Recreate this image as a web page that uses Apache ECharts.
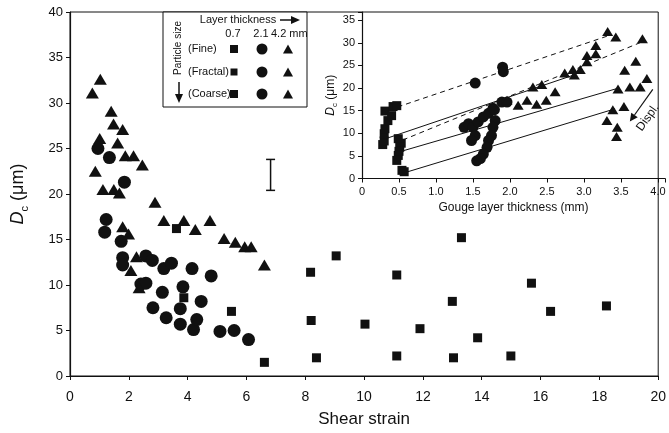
<!DOCTYPE html>
<html>
<head>
<meta charset="utf-8">
<script src="https://cdn.jsdelivr.net/npm/echarts@6/dist/echarts.min.js"></script>
<style>
html, body { margin: 0; padding: 0; background: #fff; }
#main { width: 669px; height: 433px; }
</style>
</head>
<body>
<div id="main"></div>
<script>
var myChart = echarts.init(document.getElementById('main'));

// main plot: shear strain vs Dc, one series per layer thickness
var mainSquares = [
    [3.62, 16.2], [3.87, 8.6], [5.49, 7.1], [6.61, 1.5], [8.18, 11.4], [8.2, 6.1],
    [8.38, 2.0], [9.05, 13.2], [10.03, 5.7], [11.11, 11.1], [11.11, 2.2], [11.9, 5.2],
    [13.0, 8.2], [13.04, 2.0], [13.31, 15.2], [13.86, 4.2], [14.99, 2.2], [15.69, 10.2],
    [16.34, 7.1], [18.24, 7.7]
];
var mainCircles = [
    [0.95, 25.0], [1.34, 24.0], [1.85, 21.3], [1.23, 17.2], [1.18, 15.8], [1.74, 14.8],
    [1.79, 13.0], [1.79, 12.2], [2.41, 10.1], [2.58, 10.2], [2.58, 13.2], [2.80, 12.7],
    [2.82, 7.5], [3.14, 9.2], [3.19, 11.8], [3.27, 6.4], [3.45, 12.4], [3.75, 7.4],
    [3.75, 5.7], [3.84, 9.8], [4.15, 11.8], [4.20, 5.1], [4.31, 6.2], [4.46, 8.2],
    [4.80, 11.0], [5.10, 4.9], [5.58, 5.0], [6.07, 4.0]
];
var mainTriangles = [
    [0.76, 31.1], [1.03, 32.6], [1.40, 29.1], [1.48, 27.7], [1.79, 27.1], [1.01, 26.1],
    [1.62, 25.6], [1.88, 24.2], [2.16, 24.2], [2.46, 23.2], [0.86, 22.5], [1.12, 20.5],
    [1.49, 20.5], [1.68, 20.1], [2.89, 19.1], [3.19, 17.1], [3.87, 17.1], [4.76, 17.1],
    [4.26, 16.1], [1.79, 16.4], [1.99, 15.6], [5.24, 15.1], [5.62, 14.7], [5.94, 14.2],
    [6.16, 14.2], [6.61, 12.2], [2.26, 13.1], [2.07, 11.6], [2.35, 9.7]
];
// [x, low, high]
var errorBar = [[6.82, 20.4, 23.8]];

// inset: gouge layer thickness vs Dc
var insetSquares = [
    [0.28, 7.5], [0.30, 8.3], [0.30, 9.9], [0.31, 11.0], [0.35, 12.8], [0.31, 14.9],
    [0.40, 13.9], [0.42, 15.9], [0.47, 16.1], [0.49, 8.8], [0.53, 7.8], [0.51, 6.9],
    [0.50, 6.0], [0.49, 5.1], [0.47, 4.0], [0.54, 1.8], [0.57, 1.5]
];
var insetCircles = [
    [1.53, 21.1], [1.90, 24.6], [1.91, 23.6], [1.38, 11.3], [1.44, 12.1], [1.50, 11.3],
    [1.57, 12.5], [1.64, 13.6], [1.71, 14.4], [1.77, 15.5], [1.79, 15.2], [1.89, 16.9],
    [1.96, 16.9], [1.53, 9.5], [1.48, 8.4], [1.80, 12.8], [1.77, 11.3], [1.75, 9.5],
    [1.71, 8.4], [1.69, 6.9], [1.64, 5.4], [1.60, 4.4], [1.55, 3.9]
];
var insetTriangles = [
    [3.32, 32.5], [3.43, 31.3], [3.79, 30.9], [3.16, 29.4], [3.04, 27.2], [3.16, 27.6],
    [3.04, 25.8], [3.70, 25.9], [3.55, 23.9], [2.95, 24.1], [2.85, 24.1], [2.74, 23.3],
    [2.87, 22.9], [3.85, 22.1], [2.61, 19.2], [3.46, 19.8], [3.62, 20.2], [3.76, 20.2],
    [2.49, 17.3], [2.36, 16.4], [2.23, 17.3], [2.11, 16.2], [1.96, 17.3], [3.39, 15.2],
    [3.54, 15.9], [3.31, 12.8], [3.45, 11.3], [3.44, 9.3], [2.31, 20.2], [2.43, 20.8]
];
var insetDashed = [
    [[0.48, 15.8], [3.32, 31.5]],
    [[0.55, 8.5], [3.8, 30.3]]
];
var insetSolid = [
    [[0.32, 8.8], [2.85, 22.8]],
    [[0.55, 6.1], [3.45, 19.9]],
    [[0.58, 1.3], [3.42, 15.4]]
];
var displArrow = [[3.93, 19.7], [3.62, 12.6]];

var ink = '#111';
var font = 'Liberation Sans, Arial, sans-serif';

function tickFmt(step, digits) {
    return function (v) {
        var k = v / step;
        if (Math.abs(k - Math.round(k)) > 1e-6) return '';
        if (v === 0) return '0';
        return v.toFixed(digits);
    };
}

function dots(data, symbol, size, xi) {
    return {
        type: 'scatter',
        xAxisIndex: xi, yAxisIndex: xi,
        data: data,
        symbol: symbol,
        symbolSize: size,
        itemStyle: { color: ink, opacity: 1 },
        z: 3
    };
}

function seg(pts, dashed) {
    return {
        type: 'line',
        xAxisIndex: 1, yAxisIndex: 1,
        data: pts,
        symbol: 'none',
        lineStyle: { color: ink, width: 1, type: dashed ? [5, 4] : 'solid' },
        z: 2
    };
}

var series = [
    dots(mainSquares, 'rect', 9, 0),
    dots(mainCircles, 'circle', 13, 0),
    dots(mainTriangles, 'triangle', [13, 11], 0),
    {
        type: 'custom',
        xAxisIndex: 0, yAxisIndex: 0,
        data: errorBar,
        renderItem: function (params, api) {
            var lo = api.coord([api.value(0), api.value(1)]);
            var hi = api.coord([api.value(0), api.value(2)]);
            var st = { stroke: ink, lineWidth: 1.5 };
            return {
                type: 'group',
                children: [
                    { type: 'line', shape: { x1: lo[0], y1: lo[1], x2: hi[0], y2: hi[1] }, style: st },
                    { type: 'line', shape: { x1: lo[0] - 4.5, y1: lo[1], x2: lo[0] + 4.5, y2: lo[1] }, style: st },
                    { type: 'line', shape: { x1: hi[0] - 4.5, y1: hi[1], x2: hi[0] + 4.5, y2: hi[1] }, style: st }
                ]
            };
        }
    },
    dots(insetSquares, 'rect', 9, 1),
    dots(insetCircles, 'circle', 11, 1),
    dots(insetTriangles, 'triangle', [11, 9], 1)
];
insetDashed.forEach(function (p) { series.push(seg(p, true)); });
insetSolid.forEach(function (p) { series.push(seg(p, false)); });

var axisBase = {
    type: 'value',
    nameLocation: 'middle',
    axisLine: { show: true, lineStyle: { color: ink, width: 1.2 } },
    axisTick: { show: true, inside: false, length: 4, lineStyle: { color: ink } },
    splitLine: { show: false }
};

option = {
    animation: false,
    backgroundColor: '#fff',
    textStyle: { fontFamily: font, color: ink },
    grid: [
        { left: 70, right: 4, top: 12, bottom: 55, show: true, borderColor: ink, borderWidth: 1, backgroundColor: 'transparent' },
        { left: 362, right: 4, top: 12, bottom: 254.5 }
    ],
    xAxis: [
        Object.assign({}, axisBase, {
            gridIndex: 0, min: 0, max: 20, interval: 2,
            name: 'Shear strain', nameGap: 35,
            nameTextStyle: { fontSize: 17, color: ink, fontFamily: font },
            axisLabel: { fontSize: 14, color: ink, margin: 14, fontFamily: font }
        }),
        Object.assign({}, axisBase, {
            gridIndex: 1, min: 0, max: 4.095, interval: 0.5,
            name: 'Gouge layer thickness (mm)', nameGap: 23,
            nameTextStyle: { fontSize: 12, color: ink, fontFamily: font },
            axisLabel: { fontSize: 11, color: ink, margin: 8, fontFamily: font, formatter: tickFmt(0.5, 1) }
        })
    ],
    yAxis: [
        Object.assign({}, axisBase, {
            gridIndex: 0, min: 0, max: 40, interval: 5,
            name: '{d|D}{c|c} (μm)', nameGap: 40,
            nameTextStyle: {
                fontSize: 18, color: ink, fontFamily: font,
                rich: {
                    d: { fontSize: 18, fontStyle: 'italic', lineHeight: 24, fontFamily: font },
                    c: { fontSize: 11, verticalAlign: 'bottom', lineHeight: 14, fontFamily: font }
                }
            },
            axisLabel: { fontSize: 13, color: ink, margin: 7, fontFamily: font }
        }),
        Object.assign({}, axisBase, {
            gridIndex: 1, min: 0, max: 36.8, interval: 5,
            name: '{d|D}{c|c} (μm)', nameGap: 20,
            nameTextStyle: {
                fontSize: 12, color: ink, fontFamily: font,
                rich: {
                    d: { fontSize: 12, fontStyle: 'italic', lineHeight: 16, fontFamily: font },
                    c: { fontSize: 8, verticalAlign: 'bottom', lineHeight: 10, fontFamily: font }
                }
            },
            axisLabel: { fontSize: 11, color: ink, margin: 7, fontFamily: font, formatter: tickFmt(5, 0) }
        })
    ],
    series: series
};

myChart.setOption(option);

// legend box (symbol key) and the Displ. arrow of the inset
var txt = function (x, y, s, size, align, extra) {
    return Object.assign({
        type: 'text', x: x, y: y,
        style: { text: s, fontSize: size, fontFamily: font, fill: ink, align: align || 'left', verticalAlign: 'middle' },
        z: 20
    }, extra || {});
};
var sq = function (x, y, s) { return { type: 'rect', shape: { x: x - s / 2, y: y - s / 2, width: s, height: s }, style: { fill: ink }, z: 20 }; };
var ci = function (x, y, r) { return { type: 'circle', shape: { cx: x, cy: y, r: r }, style: { fill: ink }, z: 20 }; };
var tri = function (x, y, w, h) {
    return { type: 'polygon', shape: { points: [[x - w / 2, y + h / 2], [x + w / 2, y + h / 2], [x, y - h / 2]] }, style: { fill: ink }, z: 20 };
};

var rows = [['(Fine)', 49, 8], ['(Fractal)', 72, 7], ['(Coarse)', 94, 8]];
var g = [
    { type: 'rect', shape: { x: 163, y: 12, width: 144, height: 95 }, style: { fill: '#fff', stroke: ink, lineWidth: 1 }, z: 19 },
    txt(238, 20, 'Layer thickness', 11, 'center'),
    { type: 'line', shape: { x1: 280, y1: 20, x2: 293, y2: 20 }, style: { stroke: ink, lineWidth: 1.5 }, z: 20 },
    { type: 'polygon', shape: { points: [[291, 16], [300, 20], [291, 24]] }, style: { fill: ink }, z: 20 },
    txt(233, 34, '0.7', 11, 'center'),
    txt(261, 34, '2.1', 11, 'center'),
    txt(271, 34, '4.2 mm', 11, 'left'),
    txt(178, 48, 'Particle size', 10, 'center', { rotation: Math.PI / 2 }),
    { type: 'line', shape: { x1: 179, y1: 82, x2: 179, y2: 96 }, style: { stroke: ink, lineWidth: 1.5 }, z: 20 },
    { type: 'polygon', shape: { points: [[175, 94], [183, 94], [179, 103]] }, style: { fill: ink }, z: 20 }
];
rows.forEach(function (r) {
    g.push(txt(188, r[1], r[0], 11, 'left'));
    g.push(sq(234, r[1], r[2]));
    g.push(ci(262, r[1], 5.5));
    g.push(tri(288, r[1], 10, 9));
});

var a0 = myChart.convertToPixel({ gridIndex: 1 }, displArrow[0]);
var a1 = myChart.convertToPixel({ gridIndex: 1 }, displArrow[1]);
var ang = Math.atan2(a1[1] - a0[1], a1[0] - a0[0]);
var hl = 8, hw = 4;
var bx = a1[0] - hl * Math.cos(ang), by = a1[1] - hl * Math.sin(ang);
g.push({ type: 'line', shape: { x1: a0[0], y1: a0[1], x2: bx, y2: by }, style: { stroke: ink, lineWidth: 1.2 }, z: 20 });
g.push({
    type: 'polygon',
    shape: { points: [[a1[0], a1[1]], [bx + hw * Math.sin(ang), by - hw * Math.cos(ang)], [bx - hw * Math.sin(ang), by + hw * Math.cos(ang)]] },
    style: { fill: ink }, z: 20
});
g.push(txt(a1[0] + 18, a1[1] - 4, 'Displ.', 12, 'center', { rotation: Math.atan2(a0[1] - a1[1], a0[0] - a1[0]) * -1 }));

myChart.setOption({ graphic: g });
</script>
</body>
</html>
